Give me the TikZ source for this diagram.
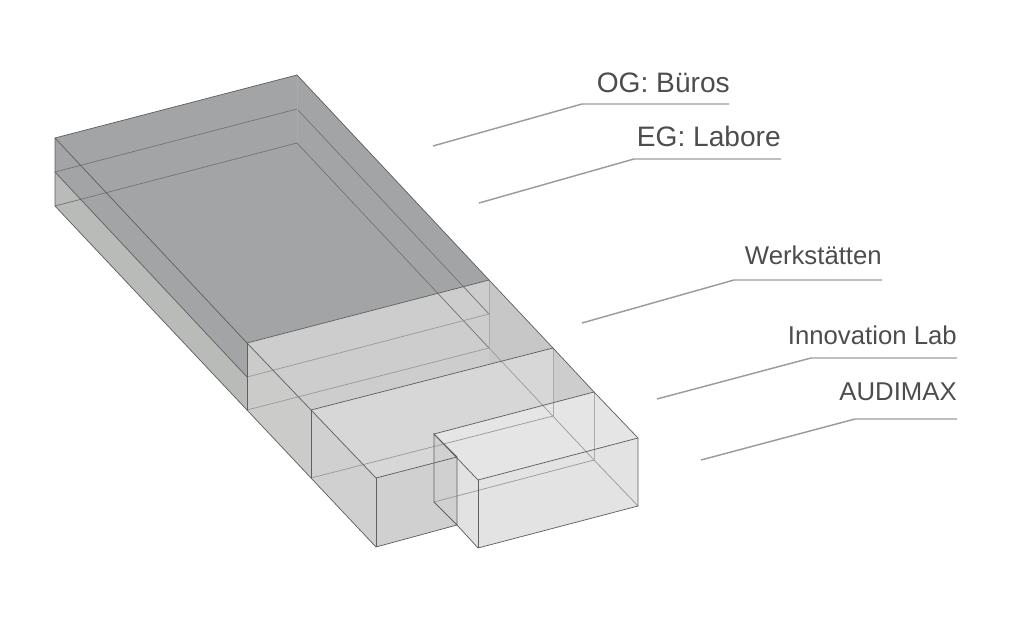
\documentclass[tikz,border=0pt]{standalone}
\usepackage{fontspec}
\setmainfont{Liberation Sans}
\definecolor{txt}{HTML}{4D4D4F}
\definecolor{leader}{HTML}{9C9C9C}
\definecolor{edge}{HTML}{5F6060}
\definecolor{hidd}{HTML}{747576}
\definecolor{hid}{HTML}{9A9B9B}
\definecolor{hidv}{HTML}{ABABAB}
\definecolor{slab}{HTML}{A3A4A6}
\definecolor{slabside}{HTML}{B9BBB8}
\definecolor{wtop}{HTML}{CCCDCC}
\definecolor{wside}{HTML}{C6C7C6}
\definecolor{wfront}{HTML}{CBCCCA}
\definecolor{ltop}{HTML}{D7D7D7}
\definecolor{lside}{HTML}{CDCDCD}
\definecolor{lfront}{HTML}{D0D0D0}
\definecolor{atop}{HTML}{E5E5E5}
\definecolor{afront}{HTML}{E3E3E3}
\definecolor{aside}{HTML}{E2E2E2}
\definecolor{adark}{HTML}{D0D0D0}
\tikzset{
  lbl/.style={text=txt,font=\fontsize{19.3}{23}\selectfont,inner sep=0pt,anchor=base east},
  lblbig/.style={lbl,font=\fontsize{21.1}{25}\selectfont},
  lead/.style={draw=leader,line width=1.1pt},
  ln/.style={draw=edge,line width=0.55pt},
  hld/.style={draw=hidd,line width=0.55pt},
  hl/.style={draw=hid,line width=0.55pt},
  hv/.style={draw=hidv,line width=0.7pt},
}
\begin{document}
\begin{tikzpicture}[x=0.75pt,y=-0.75pt]
\useasboundingbox (0,0) rectangle (1024,641);
% corners
\coordinate (A) at (55,138); \coordinate (A1) at (55,172); \coordinate (A2) at (55,206);
\coordinate (B) at (297,75); \coordinate (B1) at (297,109); \coordinate (B2) at (297,143);
\coordinate (C) at (489,280); \coordinate (C1) at (489,314); \coordinate (C2) at (489,348);
\coordinate (D) at (247,343); \coordinate (D1) at (247,377); \coordinate (D2) at (247,410);
\coordinate (E) at (311,410); \coordinate (E2) at (311,478);
\coordinate (F) at (553,348); \coordinate (F2) at (553,416);
\coordinate (G) at (376,478); \coordinate (G2) at (376,547);
\coordinate (H) at (594,392); \coordinate (H2) at (594,460);
\coordinate (I) at (434,434); \coordinate (I2) at (434,502);
\coordinate (J) at (478,480); \coordinate (J2) at (478,548);
\coordinate (K) at (638,438); \coordinate (K2) at (638,506);
\coordinate (L) at (457,457); \coordinate (L2) at (457,525);
\coordinate (M) at (489,364.4); \coordinate (N) at (553,403.5);
% faces
\fill[slab] (A)--(B)--(C)--(D)--(D1)--(A1)--cycle;
\fill[slabside] (A1)--(D1)--(D2)--(A2)--cycle;
\fill[wtop] (D)--(C)--(M)--(E)--cycle;
\fill[wside] (C)--(F)--(M)--cycle;
\fill[wfront] (D)--(E)--(E2)--(D2)--cycle;
\fill[ltop] (E)--(F)--(N)--(I)--(L)--(G)--cycle;
\fill[lside] (F)--(H)--(N)--cycle;
\fill[lfront] (E)--(G)--(G2)--(E2)--cycle;
\fill[lfront] (G)--(L)--(L2)--(G2)--cycle;
\fill[atop] (I)--(H)--(K)--(J)--cycle;
\fill[afront] (J)--(K)--(K2)--(J2)--cycle;
\fill[aside] (L)--(J)--(J2)--(L2)--cycle;
\fill[adark] (I)--(L)--(L2)--(I2)--cycle;
% hidden lines
\draw[hld] (A1)--(B1) (A2)--(B2);
\draw[hld] (B1)--(C1) (B2)--(C2);
\draw[hv] (B)--(B2);
\draw[hl] (D1)--(C1) (D2)--(C2);
\draw[hv] (C)--(C2);
\draw[hl] (C2)--(H2);
\draw[hl] (E2)--(F2);
\draw[hv] (F)--(F2);
\draw[hl] (I2)--(H2) (H2)--(K2);
\draw[hv] (H)--(H2);
% visible lines
\draw[ln] (A)--(B)--(C)--(F)--(H)--(K)--(K2)--(J2)--(L2)--(G2)--(E2)--(D2)--(A2)--cycle;
\draw[ln] (A)--(D)--(C);
\draw[ln] (A1)--(D1);
\draw[ln] (D)--(E)--(F);
\draw[ln] (D)--(D2);
\draw[ln] (E)--(G)--(L);
\draw[ln] (E)--(E2);
\draw[ln] (G)--(G2);
\draw[ln] (H)--(I)--(J)--(K);
\draw[ln] (J)--(J2);
\draw[ln] (I)--(I2)--(L2)--(L)--cycle;
% labels
\node[lblbig] (og) at (730,93) {OG: Büros};
\node[lblbig] (eg) at (781,147) {EG: Labore};
\node[lbl] (we) at (882,265) {Werkstätten};
\node[lbl] (in) at (957,345) {Innovation Lab};
\node[lbl] (au) at (957,400) {AUDIMAX};
% leaders
\coordinate (og1) at (433,146); \coordinate (og2) at (582,104); \coordinate (og3) at (729,104);
\coordinate (eg1) at (479,203); \coordinate (eg2) at (634,159); \coordinate (eg3) at (781,159);
\coordinate (we1) at (582,323); \coordinate (we2) at (734,280); \coordinate (we3) at (882,280);
\coordinate (in1) at (657,399); \coordinate (in2) at (811,358); \coordinate (in3) at (957,358);
\coordinate (au1) at (701,460); \coordinate (au2) at (855,419); \coordinate (au3) at (957,419);
\draw[lead] (og1)--(og2)--(og3);
\draw[lead] (eg1)--(eg2)--(eg3);
\draw[lead] (we1)--(we2)--(we3);
\draw[lead] (in1)--(in2)--(in3);
\draw[lead] (au1)--(au2)--(au3);
\end{tikzpicture}
\end{document}
